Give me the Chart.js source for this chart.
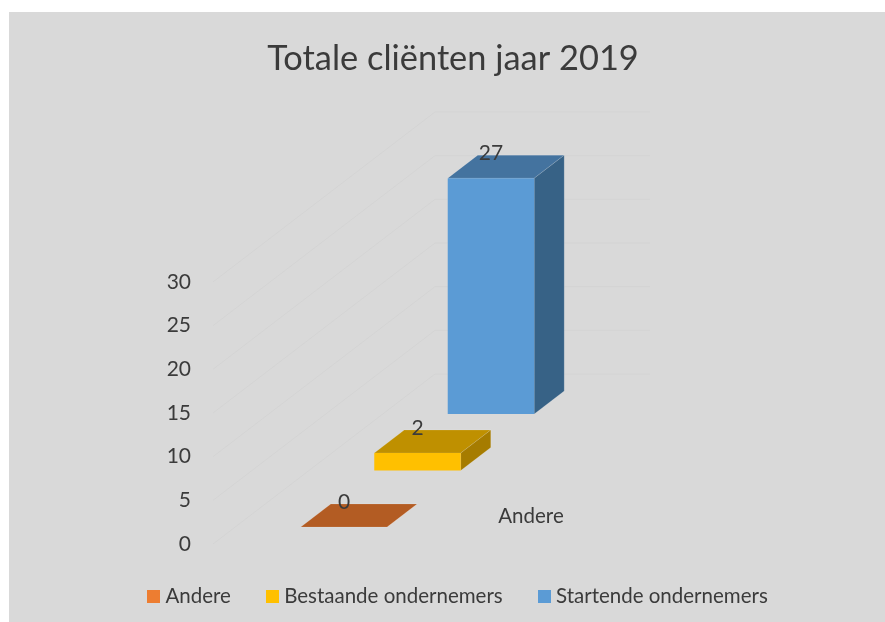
<!DOCTYPE html>
<html>
<head>
<meta charset="utf-8">
<script src="https://cdn.jsdelivr.net/npm/chart.js@4"></script>
<style>
  html, body { margin: 0; background: #fff; overflow: hidden; }
  #wrap { position: absolute; left: 9px; top: 12px; width: 876px; height: 610px; background: #d9d9d9; }
</style>
</head>
<body>
<div id="wrap"><canvas id="clientsChart" width="876" height="610"></canvas></div>
<script>
const categories = ['Andere'];
const seriesNames = ['Andere', 'Bestaande ondernemers', 'Startende ondernemers'];
const andereValues = [0];
const bestaandeValues = [2];
const startendeValues = [27];
const yTicks = [0, 5, 10, 15, 20, 25, 30];

const frontColors = ['#ed7d31', '#ffc000', '#5b9bd5'];
const topColors = ['#b35c23', '#bf9000', '#44739f'];
const sideColors = ['#8f4a1c', '#a67c00', '#376286'];

const textColor = '#3b3b3b';
const edgeColor = 'rgba(255,255,255,0.12)';
const fontFamily = 'Lato, Carlito, "Open Sans", sans-serif';

// fake 3D: how far the series and the walls move back
const wallX = 222, wallY = -170, wallEnd = 437;
const barDepthX = 30, barDepthY = -23;
const shiftX = -131.5, shiftFirstY = -17, shiftStepY = -56.5;

function polygon(ctx, points, fill) {
  ctx.fillStyle = fill;
  ctx.strokeStyle = edgeColor;
  ctx.beginPath();
  points.forEach((p, i) => i ? ctx.lineTo(p[0], p[1]) : ctx.moveTo(p[0], p[1]));
  ctx.closePath();
  ctx.fill();
  ctx.stroke();
}

function legendSwatch(color) {
  const c = document.createElement('canvas');
  c.width = 13;
  c.height = 13;
  const g = c.getContext('2d');
  g.fillStyle = color;
  g.fillRect(0, 0, 13, 13);
  return c;
}

const fake3d = {
  id: 'fake3d',
  afterLayout(chart) {
    // legend sits a bit right of the title in the original
    chart.legend.left += 7;
    chart.legend.right += 7;
  },
  afterDatasetsUpdate(chart) {
    chart.data.datasets.forEach((ds, i) => {
      chart.getDatasetMeta(i).data.forEach(bar => {
        const dy = shiftFirstY + shiftStepY * i;
        bar.x += shiftX;
        bar.y += dy;
        bar.base += dy;
      });
    });
  },
  beforeDatasetsDraw(chart) {
    const ctx = chart.ctx;
    const yScale = chart.scales.y;
    const left = chart.chartArea.left;

    ctx.save();
    ctx.strokeStyle = '#d4d4d4';
    ctx.lineWidth = 1;
    yTicks.forEach(v => {
      const y = yScale.getPixelForValue(v);
      ctx.beginPath();
      ctx.moveTo(left, y);
      ctx.lineTo(left + wallX, y + wallY);
      ctx.lineTo(left + wallEnd, y + wallY);
      ctx.stroke();
    });

    // back to front
    for (let i = chart.data.datasets.length - 1; i >= 0; i--) {
      chart.getDatasetMeta(i).data.forEach(bar => {
        const l = bar.x - bar.width / 2;
        const r = bar.x + bar.width / 2;
        polygon(ctx, [
          [l, bar.y],
          [l + barDepthX, bar.y + barDepthY],
          [r + barDepthX, bar.y + barDepthY],
          [r, bar.y]
        ], topColors[i]);
        polygon(ctx, [
          [r, bar.y],
          [r + barDepthX, bar.y + barDepthY],
          [r + barDepthX, bar.base + barDepthY],
          [r, bar.base]
        ], sideColors[i]);
      });
    }
    ctx.restore();
  },
  afterDatasetsDraw(chart) {
    const ctx = chart.ctx;
    ctx.save();
    ctx.fillStyle = textColor;
    ctx.font = '21px ' + fontFamily;
    ctx.textAlign = 'center';
    ctx.textBaseline = 'middle';
    chart.data.datasets.forEach((ds, i) => {
      chart.getDatasetMeta(i).data.forEach((bar, j) => {
        ctx.fillText(ds.data[j], bar.x, bar.y - 24.5);
      });
    });
    ctx.restore();
  }
};

new Chart(document.getElementById('clientsChart'), {
  type: 'bar',
  data: {
    labels: categories,
    datasets: [
      { label: seriesNames[0], data: andereValues, backgroundColor: frontColors[0] },
      { label: seriesNames[1], data: bestaandeValues, backgroundColor: frontColors[1] },
      { label: seriesNames[2], data: startendeValues, backgroundColor: frontColors[2] }
    ]
  },
  plugins: [fake3d],
  options: {
    responsive: false,
    animation: false,
    events: [],
    clip: false,
    categoryPercentage: 0.328,
    barPercentage: 1.177,
    layout: { padding: { left: 12, bottom: 5 } },
    scales: {
      x: {
        grid: { display: false },
        border: { display: false },
        afterFit(scale) { scale.height = 2.5; },
        ticks: {
          color: textColor,
          font: { size: 20.5, family: fontFamily },
          mirror: true,
          padding: 15,
          labelOffset: -18,
          maxRotation: 0
        }
      },
      y: {
        min: 0,
        max: 30,
        grid: { display: false },
        border: { display: false },
        afterFit(scale) { scale.width = 192; },
        ticks: {
          stepSize: 5,
          color: textColor,
          font: { size: 21, family: fontFamily },
          padding: 14
        }
      }
    },
    plugins: {
      tooltip: { enabled: false },
      title: {
        display: true,
        text: 'Totale cliënten jaar 2019',
        color: textColor,
        font: { size: 34.4, weight: 'normal', family: fontFamily },
        padding: { top: 26, bottom: 202.7 }
      },
      legend: {
        position: 'bottom',
        labels: {
          color: textColor,
          font: { size: 20.5, family: fontFamily },
          usePointStyle: true,
          pointStyleWidth: 3,
          boxWidth: 13,
          padding: 40,
          generateLabels(chart) {
            const items = Chart.defaults.plugins.legend.labels.generateLabels(chart);
            items.forEach((item, i) => { item.pointStyle = legendSwatch(frontColors[i]); });
            return items;
          }
        }
      }
    }
  }
});
</script>
</body>
</html>
